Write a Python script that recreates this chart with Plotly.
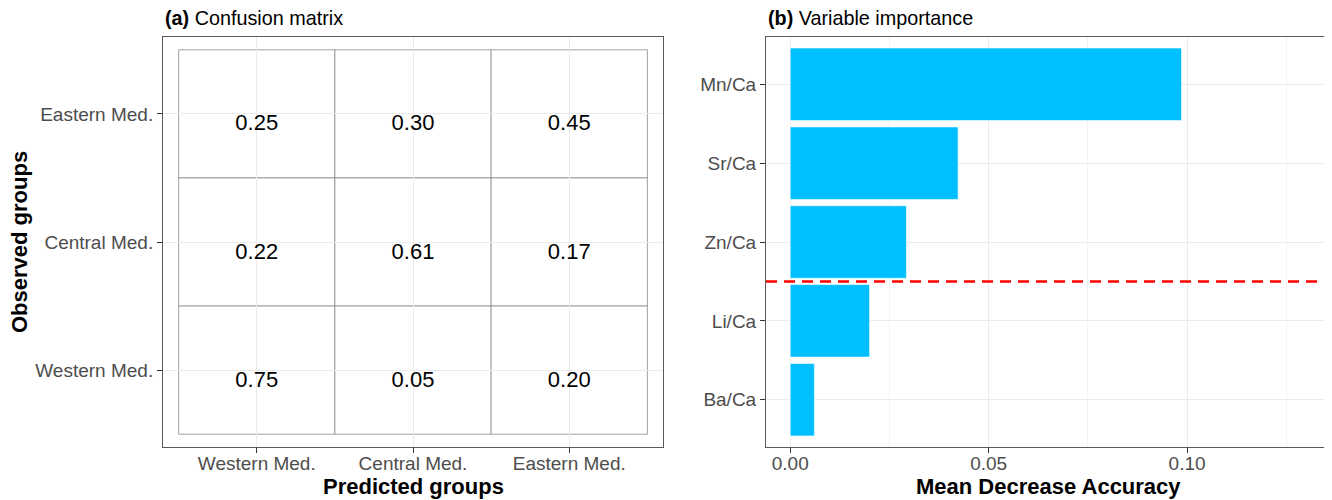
import plotly.graph_objects as go

# ---------------- data ----------------
groups = ["Western Med.", "Central Med.", "Eastern Med."]          # predicted (x) and observed (y)
observed_rows = ["Eastern Med.", "Central Med.", "Western Med."]
confusion = [
    [0.25, 0.30, 0.45],   # Eastern Med. observed
    [0.22, 0.61, 0.17],   # Central Med. observed
    [0.75, 0.05, 0.20],   # Western Med. observed
]
variables = ["Ba/Ca", "Li/Ca", "Zn/Ca", "Sr/Ca", "Mn/Ca"]          # bottom -> top
importance = [0.0061, 0.0200, 0.0293, 0.0423, 0.0986]
cutoff_between = ("Li/Ca", "Zn/Ca")
x_ticks = [0.0, 0.05, 0.10]
x_ticklabels = ["0.00", "0.05", "0.10"]

FONT = "Liberation Sans, Arial, sans-serif"
OFF = 8                      # page body margin of the browser
W, H = 1332 - OFF, 500 - OFF
TICK_COL = "#4D4D4D"
GRID = "#EBEBEB"
BORDER = "#5a5a5a"

fig = go.Figure()

# ---------------- (a) confusion matrix ----------------
cx, cy, ct = [], [], []
for r, obs in enumerate(observed_rows):
    for c, pred in enumerate(groups):
        cx.append(pred)
        cy.append(obs)
        ct.append(f"{confusion[r][c]:.2f}")
        xi = groups.index(pred)
        yi = groups.index(obs)
        fig.add_shape(type="rect", xref="x", yref="y",
                      x0=xi - 0.5, x1=xi + 0.5, y0=yi - 0.5, y1=yi + 0.5,
                      fillcolor="white", line=dict(color="#8a8a8a", width=0.8),
                      layer="below")

fig.add_trace(go.Scatter(x=cx, y=cy, text=ct, mode="text",
                         textposition="bottom center",
                         textfont=dict(family=FONT, size=22, color="black"),
                         xaxis="x", yaxis="y", showlegend=False, hoverinfo="skip"))

# ---------------- (b) variable importance ----------------
fig.add_trace(go.Bar(x=importance, y=variables, orientation="h",
                     marker=dict(color="#00BFFF", line=dict(color="white", width=0.6)),
                     width=0.92, xaxis="x2", yaxis="y2", showlegend=False))

cut_y = (variables.index(cutoff_between[0]) + variables.index(cutoff_between[1])) / 2
fig.add_shape(type="line", xref="x2 domain", yref="y2", x0=0, x1=1, y0=cut_y, y1=cut_y,
              line=dict(color="#FF0000", width=2.5, dash="11px,7px"), layer="above")

# ---------------- layout ----------------
def px_x(p):
    return (p - OFF) / W

def px_y(p):
    return 1 - (p - OFF) / H

ydom = [px_y(447), px_y(37)]
common_axis = dict(showline=True, mirror=True, linecolor=BORDER, linewidth=1,
                   ticks="outside", ticklen=5, tickcolor="#333333", tickwidth=1,
                   tickfont=dict(family=FONT, size=19, color=TICK_COL),
                   gridcolor=GRID, gridwidth=1, zeroline=False)

fig.update_layout(
    width=W, height=H,
    margin=dict(l=0, r=0, t=0, b=0),
    paper_bgcolor="white", plot_bgcolor="white",
    font=dict(family=FONT),
    xaxis=dict(domain=[px_x(163), px_x(663)], anchor="y", type="category",
               categoryorder="array", categoryarray=groups, range=[-0.6, 2.6],
               ticklabelstandoff=-6, **common_axis),
    yaxis=dict(domain=ydom, anchor="x", type="category",
               categoryorder="array", categoryarray=groups, range=[-0.6, 2.6],
               **common_axis),
    xaxis2=dict(domain=[px_x(766), px_x(1326)], anchor="y2", range=[-0.0061, 0.135],
                tickvals=x_ticks, ticktext=x_ticklabels, ticklabelstandoff=-6,
                minor=dict(tickvals=[0.025, 0.075, 0.125], showgrid=True,
                           gridcolor="#F2F2F2", gridwidth=1, ticks=""),
                **common_axis),
    yaxis2=dict(domain=ydom, anchor="x2", type="category",
                categoryorder="array", categoryarray=variables, range=[-0.6, 4.6],
                **common_axis),
    bargap=0.08,
)

ann = [
    dict(text="<b>(a)</b> Confusion matrix", x=px_x(163), y=px_y(18),
         xanchor="left", yanchor="middle", font=dict(size=19.8)),
    dict(text="<b>(b)</b> Variable importance", x=px_x(766), y=px_y(18),
         xanchor="left", yanchor="middle", font=dict(size=19.8)),
    dict(text="<b>Predicted groups</b>", x=px_x(413), y=px_y(486),
         xanchor="center", yanchor="middle", font=dict(size=22)),
    dict(text="<b>Mean Decrease Accuracy</b>", x=px_x(1048), y=px_y(486),
         xanchor="center", yanchor="middle", font=dict(size=22)),
    dict(text="<b>Observed groups</b>", x=px_x(19), y=px_y(242), textangle=-90,
         xanchor="center", yanchor="middle", font=dict(size=22)),
]
for a in ann:
    a.update(xref="paper", yref="paper", showarrow=False)
    a["font"].update(family=FONT, color="black")
fig.update_layout(annotations=ann)

fig.write_html("out.html")
